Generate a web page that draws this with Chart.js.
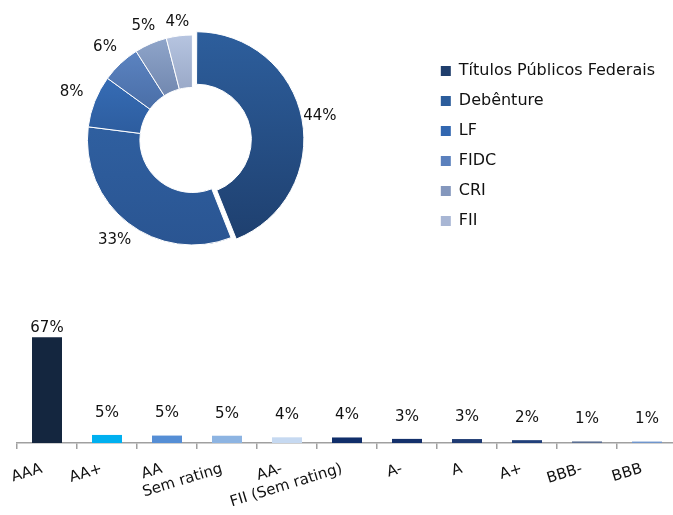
<!DOCTYPE html>
<html lang="pt-BR">
<head>
<meta charset="utf-8">
<title>Carteira de crédito</title>
<script src="https://cdn.jsdelivr.net/npm/chart.js@4.4.1/dist/chart.umd.min.js"></script>
<style>
  html, body { margin: 0; padding: 0; background: #fff; }
  body { position: relative; width: 673px; height: 515px; overflow: hidden; }
  #assetChart { position: absolute; left: -42px; top: 0; }
  #ratingChart { position: absolute; left: 0; top: 280px; }
</style>
</head>
<body>
<canvas id="assetChart" width="720" height="280"></canvas>
<canvas id="ratingChart" width="690" height="235"></canvas>
<script>
  /* ── dados ─────────────────────────────────────── */
  var assetClasses = ['Títulos Públicos Federais', 'Debênture', 'LF', 'FIDC', 'CRI', 'FII'];
  var assetShare = [44, 33, 8, 6, 5, 4];

  var ratings = ['AAA', 'AA+', 'AA', 'Sem rating', 'AA-', 'FII (Sem rating)', 'A-', 'A', 'A+', 'BBB-', 'BBB'];
  var ratingShare = [67, 5.1, 4.7, 4.6, 3.6, 3.5, 2.6, 2.5, 1.8, 1.0, 0.9];

  /* ── estilos ───────────────────────────────────── */
  var FONT = "'DejaVu Sans', Verdana, sans-serif";
  var TEXT = '#111111';
  // [cor topo, cor base, fração onde a cor base é atingida]
  var sliceGradient = [
    ['#2d5e9c', '#1e3f6e', 1],
    ['#3367aa', '#2a5592', 1],
    ['#3d78c6', '#2c5b9c', 0.5],
    ['#6089c8', '#44679e', 0.45],
    ['#90a6cb', '#6b82aa', 0.35],
    ['#b6c4e0', '#95a5c4', 0.3]
  ];
  var legendColors = ['#1f3e6c', '#2b5c9b', '#3267b0', '#5a80bd', '#8497bd', '#a8b6d4'];
  var barColors = ['#14263f', '#00b0f0', '#558ed5', '#8db4e2', '#c6d9f1', '#102e6a',
                   '#14306b', '#1f3b73', '#203f7a', '#5a6e92', '#6f95cc'];
  var DONUT_R = 105;

  Chart.defaults.font.family = FONT;
  Chart.defaults.color = TEXT;

  function sliceFill(ctx) {
    var chart = ctx.chart;
    var area = chart.chartArea;
    var g = sliceGradient[ctx.dataIndex];
    if (!area) return g[0];
    var cy = (area.top + area.bottom) / 2;
    var grad = chart.ctx.createLinearGradient(0, cy - DONUT_R, 0, cy + DONUT_R);
    grad.addColorStop(0, g[0]);
    grad.addColorStop(g[2], g[1]);
    if (g[2] < 1) grad.addColorStop(1, g[1]);
    return grad;
  }

  /* ── rótulos de porcentagem da rosca ───────────── */
  var donutLabels = {
    id: 'donutLabels',
    afterDatasetsDraw: function (chart) {
      var c = chart.ctx;
      var meta = chart.getDatasetMeta(0);
      c.save();
      c.font = '15px ' + FONT;
      c.fillStyle = TEXT;
      c.textAlign = 'center';
      c.textBaseline = 'middle';
      meta.data.forEach(function (arc, i) {
        var mid = (arc.startAngle + arc.endAngle) / 2;
        // distância até o centro do texto: folga + meia largura/altura da caixa
        var r = DONUT_R + 6 + 18 * Math.abs(Math.cos(mid)) + 6 * Math.abs(Math.sin(mid));
        c.fillText(assetShare[i] + '%', arc.x + Math.cos(mid) * r, arc.y + Math.sin(mid) * r);
      });
      c.restore();
    }
  };

  /* ── rótulos das barras ────────────────────────── */
  var barLabels = {
    id: 'barLabels',
    afterDatasetsDraw: function (chart) {
      var c = chart.ctx;
      var meta = chart.getDatasetMeta(0);
      c.save();
      c.font = '15px ' + FONT;
      c.fillStyle = TEXT;
      c.textAlign = 'center';
      c.textBaseline = 'middle';
      meta.data.forEach(function (bar, i) {
        var tall = bar.base - bar.y > 40;
        c.fillText(Math.round(ratingShare[i]) + '%', bar.x, bar.y - (tall ? 9 : 22));
      });
      c.restore();
    }
  };

  /* ── 1. Classes de ativo — Rosca ───────────────── */
  new Chart(document.getElementById('assetChart'), {
    type: 'doughnut',
    data: {
      labels: assetClasses,
      datasets: [{
        data: assetShare,
        backgroundColor: sliceFill,
        borderColor: '#ffffff',
        borderWidth: 1,
        offset: [16, 0, 0, 0, 0, 0]
      }]
    },
    options: {
      responsive: false,
      animation: false,
      radius: DONUT_R,
      cutout: '50%',
      layout: { padding: { top: 0, bottom: 0, left: 0, right: 13 } },
      plugins: {
        tooltip: { enabled: false },
        legend: {
          position: 'right',
          title: { display: true, text: '', font: { size: 10, lineHeight: 1.2 }, padding: 0 },
          labels: {
            boxWidth: 10,
            boxHeight: 10,
            padding: 14,
            color: TEXT,
            font: { size: 16 },
            generateLabels: function (chart) {
              var items = Chart.overrides.doughnut.plugins.legend.labels.generateLabels(chart);
              items.forEach(function (it, i) {
                it.fillStyle = legendColors[i];
                it.strokeStyle = legendColors[i];
                it.lineWidth = 0;
              });
              return items;
            }
          }
        }
      }
    },
    plugins: [donutLabels]
  });

  /* ── 2. Distribuição por rating — Barras ───────── */
  new Chart(document.getElementById('ratingChart'), {
    type: 'bar',
    data: {
      labels: ratings,
      datasets: [{
        data: ratingShare,
        backgroundColor: barColors,
        barPercentage: 0.5,
        categoryPercentage: 1
      }]
    },
    options: {
      responsive: false,
      animation: false,
      layout: { padding: { left: 17, right: 13, top: 5, bottom: 0 } },
      plugins: { legend: { display: false }, tooltip: { enabled: false } },
      scales: {
        y: { display: false, min: 0, max: 100 },
        x: {
          grid: { drawOnChartArea: false, drawTicks: true, tickLength: 6, color: '#a0a0a0', lineWidth: 1.5 },
          border: { display: true, color: '#a0a0a0', width: 1.5 },
          ticks: {
            autoSkip: false, minRotation: 17, maxRotation: 17,
            padding: 11, labelOffset: -5,
            color: TEXT, font: { size: 15 }
          },
          afterFit: function (scale) { scale.height = 72; }
        }
      }
    },
    plugins: [barLabels]
  });
</script>
</body>
</html>
